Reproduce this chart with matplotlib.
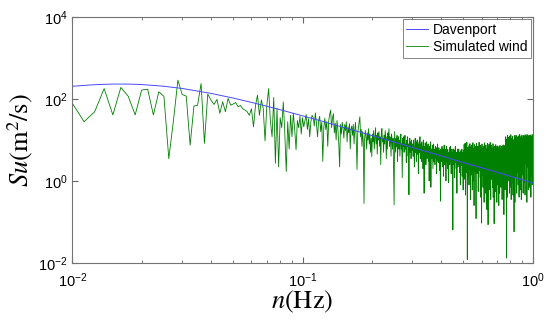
import numpy as np
import matplotlib
matplotlib.use("Agg")
import matplotlib.pyplot as plt
from matplotlib.ticker import LogLocator, NullLocator

# =========================
# Davenport target spectrum
# =========================
freq_dav = [0.01, 0.0125, 0.015, 0.0175, 0.02, 0.025, 0.03, 0.04, 0.05, 0.06,
            0.07, 0.08, 0.1, 0.12, 0.15, 0.2, 0.3, 0.4, 0.5, 0.6, 0.8, 1.0]
su_dav = [206, 225, 233, 233, 227, 206, 182, 138, 106, 83,
          67, 55, 39, 29.4, 20.5, 12.9, 6.6, 4.1, 2.8, 2.1, 1.3, 0.89]

# =========================
# Simulated wind spectrum, frequency step 0.00125 Hz from 0.01 Hz
# =========================
f_start = 0.01
f_step = 0.00125

su_sim_low = [
    79, 28, 49, 180, 41, 193, 117, 41, 166, 174,
    41, 151, 117, 3.5, 30, 290, 130, 118, 7.5, 68,
    70, 240, 8.3, 132, 95, 74, 98, 45,
    86, 49, 104, 71, 76, 82, 65, 70, 58, 54,
    49, 40, 58, 21, 70, 125, 40, 95, 60, 9.5,
    70, 180, 30, 12, 110, 2.7, 60, 2.2, 35, 20,
    85, 15, 1.7, 28, 6, 40, 12, 45, 18, 5.8,
    30, 20, 38, 14, 35,
]

su_sim_mid = [
    21, 30, 42, 18, 33, 12, 28, 40, 36, 22,
    46, 25, 12, 30, 38, 16, 27, 3.0, 20, 34,
    18, 28, 7, 30, 42, 54, 20, 35, 44, 15,
    26, 10, 30, 18, 8, 2.2, 24, 14, 27, 20,
    11, 24, 17, 28, 9, 21, 15, 25, 6, 19,
    22, 13, 24, 8, 18, 27, 10, 1.9, 15, 20,
    28, 37, 12, 18, 7, 16, 9, 0.28, 11, 17,
    12, 6, 15, 10, 19, 8, 14, 5, 11, 3.9,
    14, 9, 17, 6, 11, 20, 8, 13, 4.5, 15,
    10, 16, 7, 12, 2.5, 14, 19, 9, 11, 5,
    13, 8, 17, 11, 3.5, 12, 6, 15, 10, 19,
    7, 12, 9, 4, 14, 10, 6, 11, 2, 0.26,
    16, 9, 5, 11, 7, 13, 3, 8.5, 12, 6,
    10, 4, 9, 14, 6, 8, 1.2, 11, 7, 12,
    5, 9, 13, 6, 8, 2.8, 10, 7, 12, 4,
    8, 0.46, 6, 11, 5, 9, 3.5, 10, 7, 5.5,
    8, 4, 10, 6, 2.2, 7, 11, 5, 9, 3,
    7, 10, 4.5, 8, 1.5, 6, 9, 5, 12, 3.5,
    6, 8, 3, 9, 5, 7, 2, 10, 6.5, 0.5,
    7, 4, 8.5, 5, 2.5, 6, 9, 3.5, 7, 4.5,
    8, 3, 6, 1.0, 5.5, 7, 4, 9, 0.7, 5,
    6, 3.5, 7.5, 4, 2, 5.5, 8, 3, 6, 4.5,
    2.5, 6, 7, 3.5, 5, 1.5, 6.5, 4, 8, 3,
    5, 2.8, 6.5, 4, 1.8, 5.5, 3.5, 0.32, 6, 4.5,
    5.5, 3, 7, 2.2, 4.5, 6, 3.5, 1.3, 5, 7.5,
    4, 2.5, 6, 3.5, 5.5, 1.0, 4.5, 7, 3, 5,
    2, 6, 4, 5, 0.9, 4.5, 3, 6.5, 2.5, 5,
    4, 7, 3, 1.5, 5, 3.5, 6, 2, 4.5, 0.063,
    5, 3, 6, 2.5, 4, 1.2, 5.5, 3.5, 7, 2.8,
    4, 2, 5, 3.5, 0.5, 4.5, 6, 3, 2.2, 5,
    3.5, 6, 2.5, 4, 1.6, 5, 3, 0.8, 4.5, 5.5,
    2.4, 4.5, 3.5, 6, 1.3, 4, 5, 2.8, 0.6, 4,
]

su_sim_high = [
    5.5, 2.1, 7.8, 3.2, 1.1, 4.6, 8.4, 2.7, 0.45, 6.1,
    3.5, 1.6, 5.2, 8.9, 2.4, 0.012, 4.1, 6.6, 1.3, 3.8,
    7.2, 2.9, 0.8, 4.4, 5.9, 1.9, 8.1, 3.1, 0.35, 5.0,
    2.2, 6.8, 4.0, 1.4, 7.5, 3.3, 0.6, 5.6, 2.6, 8.6,
    4.3, 1.0, 6.2, 2.8, 0.25, 5.3, 7.7, 3.6, 1.7, 4.8,
    6.9, 2.3, 0.9, 0.12, 3.9, 8.2, 5.1, 1.5, 3.0, 6.4,
    2.0, 7.0, 4.5, 0.55, 3.4, 5.8, 1.2, 8.8, 2.5, 4.2,
    6.0, 1.8, 3.7, 7.4, 0.4, 4.9, 2.6, 6.5, 1.1, 0.093,
    5.4, 8.0, 2.7, 3.9, 1.4, 6.3, 0.7, 4.6, 7.1, 2.2,
    3.6, 0.3, 5.7, 8.5, 2.9, 1.0, 4.7, 6.7, 0.5, 3.2,
    7.6, 4.1, 1.6, 5.5, 2.4, 0.2, 6.1, 3.4, 8.3, 1.9,
    4.4, 0.085, 3.0, 6.9, 2.1, 5.0, 7.9, 1.2, 3.8, 0.6,
    5.9, 2.6, 8.7, 4.0, 1.5, 0.35, 6.6, 3.3, 2.0, 7.3,
    1.1, 4.8, 6.0, 2.8, 0.7, 5.2, 3.6, 8.1, 0.4, 4.3,
    6.4, 2.3, 1.3, 0.09, 3.9, 7.0, 5.3, 1.8, 2.9, 6.2,
    0.55, 4.5, 7.7, 3.1, 1.0, 5.6, 2.5, 6.8, 0.3, 4.0,
    5.8, 1.6, 3.4, 7.2, 0.8, 2.6, 4.9, 6.3, 1.2, 0.25,
    3.8, 6.9, 2.1, 4.6, 0.5, 5.5, 7.4, 2.9, 1.4, 3.6,
    6.2, 0.7, 4.2, 2.4, 5.9, 1.1, 7.0, 3.2, 0.35, 4.8,
    2.7, 6.5, 1.8, 3.9, 7.6, 0.9, 5.1, 2.2, 4.4, 0.15,
    6.0, 3.0, 1.3, 5.4, 7.3, 2.5, 4.1, 0.6,
    8.5, 3.1, 12.0, 5.6, 1.6, 9.8, 4.2, 0.013, 7.0, 2.4,
    10.5, 5.0, 0.4, 7.8, 13.0, 3.6, 6.4, 2.0, 9.2, 4.7,
    1.0, 11.5, 6.0, 3.3, 8.8, 0.5, 12.5, 5.3, 0.7, 7.4,
    4.0, 10.0, 2.2, 6.7, 13.5, 3.8, 0.35, 9.0, 5.5, 11.0,
    2.9, 7.1, 0.9, 4.9, 12.2, 6.3, 3.4, 8.3, 0.45, 10.2,
    5.8, 2.5, 9.6, 4.4, 0.6, 0.057, 7.7, 12.8, 3.0, 6.1,
    8.0, 0.3, 11.2, 4.6, 2.1, 9.4, 6.6, 1.3, 13.2, 5.1,
    3.5, 7.9, 10.8, 0.5, 6.0, 12.0, 4.3, 1.6, 8.6, 5.7,
    11.8, 3.2, 7.3, 0.8, 9.9, 5.2, 2.4, 12.6, 6.8, 0.4,
    1.9, 10.4, 7.6, 3.7, 13.8, 5.9, 0.6, 8.9, 4.5, 11.4,
    6.5, 1.1, 9.3, 4.8, 12.3, 0.35, 7.0, 10.1, 2.3, 5.4,
    13.1, 4.2, 8.2, 1.4, 6.2, 11.0, 3.5, 9.7, 0.5, 2.0,
    10.9, 7.2, 3.9, 12.9, 0.9, 6.9, 9.1, 4.4, 2.6, 11.7,
    5.6, 8.4, 0.45, 13.4, 4.0, 7.5, 10.6, 3.1, 6.1, 12.1,
    2.5, 9.5, 5.3, 1.2, 11.3, 7.8, 0.3, 13.7, 4.9, 8.7,
    6.4, 2.2, 10.3, 5.7, 12.7, 3.3, 8.0, 0.6, 9.9, 4.6,
    11.6, 7.1, 2.9, 13.0, 5.2, 0.7, 9.0, 6.6, 12.4, 3.8,
    8.5, 4.3, 10.7, 1.9, 7.4, 13.3, 5.5, 0.4, 11.1, 6.8,
    3.4, 9.6, 12.2, 4.7, 1.3, 8.1, 6.2, 13.6, 0.8, 10.0,
    5.1, 7.7,
]

su_sim = np.concatenate([su_sim_low, su_sim_mid, su_sim_high])
freq_sim = f_start + f_step * np.arange(len(su_sim))

# =========================
# Plot
# =========================
plt.rcParams["font.family"] = ["Liberation Sans", "DejaVu Sans"]

fig = plt.figure(figsize=(5.5, 3.2), dpi=100)
ax = fig.add_axes([0.1315, 0.179, 0.837, 0.767])

h_sim, = ax.loglog(freq_sim, su_sim, color="#008000", lw=0.6)
h_dav, = ax.loglog(freq_dav, su_dav, color="#4a4aff", lw=0.7)

ax.set_xlim(1e-2, 1e0)
ax.set_ylim(1e-2, 1e4)
ax.set_yticks([1e-2, 1e0, 1e2, 1e4])
ax.yaxis.set_minor_locator(NullLocator())
ax.xaxis.set_minor_locator(LogLocator(base=10, subs=np.arange(2, 10)))

ax.tick_params(which="both", direction="in", top=True, right=True,
               labelsize=10.5, color="0.4")
ax.tick_params(which="major", length=4)
ax.tick_params(which="minor", length=2.5)
ax.tick_params(axis="x", which="major", pad=6)
for s in ax.spines.values():
    s.set_color("0.45")
    s.set_linewidth(0.8)

ax.set_xlabel(r"$n\mathrm{(Hz)}$", fontsize=19, math_fontfamily="stix", labelpad=-1)
ax.set_ylabel(r"$Su\mathrm{(m^2/s)}$", fontsize=19, math_fontfamily="stix", labelpad=2)

leg = ax.legend(handles=[h_dav, h_sim], labels=["Davenport", "Simulated wind"],
                loc="upper right", fontsize=10, frameon=True, fancybox=False,
                borderaxespad=0.15, handlelength=1.6, handletextpad=0.3,
                borderpad=0.25, labelspacing=0.25)
leg.get_frame().set_edgecolor("0.3")
leg.get_frame().set_linewidth(0.6)

plt.savefig("out.png", dpi=100)
